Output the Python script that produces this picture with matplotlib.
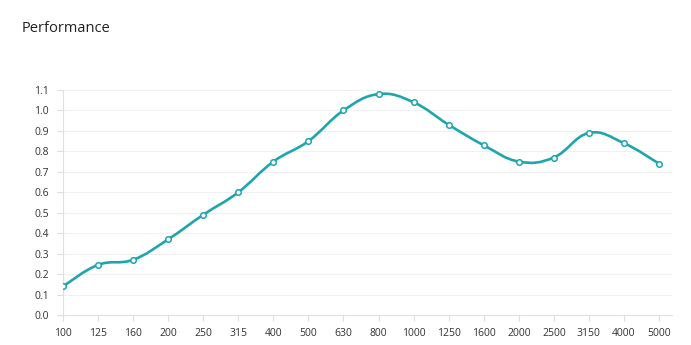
import numpy as np
import matplotlib
matplotlib.use('Agg')
import matplotlib.pyplot as plt
from matplotlib.path import Path
from matplotlib.patches import PathPatch

# frequency bands (Hz) and performance values
freq_labels = ['100', '125', '160', '200', '250', '315', '400', '500', '630',
               '800', '1000', '1250', '1600', '2000', '2500', '3150', '4000', '5000']
performance = [0.14, 0.245, 0.27, 0.37, 0.49, 0.60, 0.75, 0.85, 1.00,
               1.08, 1.04, 0.93, 0.83, 0.75, 0.77, 0.89, 0.84, 0.74]
y_ticks = [0.0, 0.1, 0.2, 0.3, 0.4, 0.5, 0.6, 0.7, 0.8, 0.9, 1.0, 1.1]

line_color = '#1ea5ad'
text_color = '#333333'

plt.rcParams['font.family'] = ['Open Sans', 'DejaVu Sans']

fig = plt.figure(figsize=(6.91, 3.45), dpi=100)
ax = fig.add_axes([63/691, 30/345, (672-63)/691, 225/345])

x = np.arange(len(performance))
y = np.array(performance, dtype=float)

# smooth curve through points (cardinal spline -> cubic bezier)
tension = 0.4
verts = [(x[0], y[0])]
codes = [Path.MOVETO]
n = len(x)
for i in range(n - 1):
    p0 = (x[i-1], y[i-1]) if i > 0 else (x[i], y[i])
    p1 = (x[i], y[i])
    p2 = (x[i+1], y[i+1])
    p3 = (x[i+2], y[i+2]) if i + 2 < n else (x[i+1], y[i+1])
    c1 = (p1[0] + (p2[0]-p0[0])*tension/2, p1[1] + (p2[1]-p0[1])*tension/2)
    c2 = (p2[0] - (p3[0]-p1[0])*tension/2, p2[1] - (p3[1]-p1[1])*tension/2)
    verts += [c1, c2, p2]
    codes += [Path.CURVE4]*3
ax.add_patch(PathPatch(Path(verts, codes), fc='none', ec=line_color, lw=1.9, zorder=3))
ax.plot(x, y, 'o', ms=4, mfc='white', mec=line_color, mew=1.1, zorder=4)

ax.set_xlim(0, (n - 1) * 609 / 596)
ax.set_ylim(0, 1.1)
ax.set_yticks(y_ticks)
ax.set_yticklabels(['%.1f' % v for v in y_ticks])
ax.set_xticks(x)
ax.set_xticklabels(freq_labels)

ax.grid(axis='y', color='#f0f0f0', lw=0.8)
ax.set_axisbelow(True)
for s in ['top', 'right']:
    ax.spines[s].set_visible(False)
for s in ['left', 'bottom']:
    ax.spines[s].set_color('#e0e0e0')
    ax.spines[s].set_linewidth(0.8)
ax.tick_params(axis='both', colors='#dddddd', labelcolor=text_color, labelsize=7.5, length=4, width=0.8)
ax.tick_params(axis='x', pad=5)
ax.tick_params(axis='y', pad=6)

fig.text(22/691, 1 - 29/345, 'Performance', fontsize=10.5, color='#222222', va='center', ha='left')

plt.savefig('out.png', dpi=100)
